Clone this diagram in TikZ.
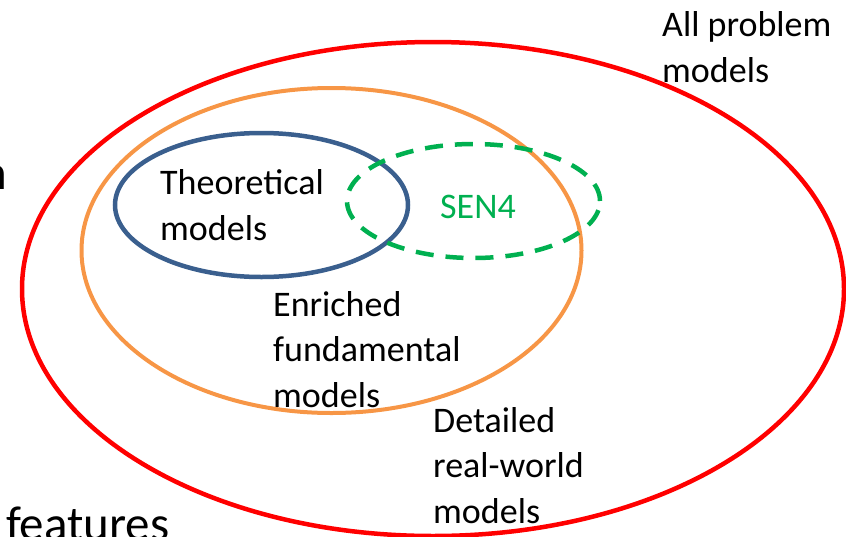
\documentclass[tikz,border=0pt]{standalone}
\usepackage{fontspec}
\setmainfont{Carlito}
\usetikzlibrary{shapes.geometric,positioning}
\definecolor{setred}{HTML}{FF0000}
\definecolor{setorange}{HTML}{F79646}
\definecolor{setblue}{HTML}{3A5F8E}
\definecolor{setgreen}{HTML}{00B050}
\tikzset{
  % mängder
  setring/.style={ellipse,inner sep=0pt,line width=4.5pt},
  allset/.style={setring,draw=setred},
  richset/.style={setring,draw=setorange,line width=4pt},
  theoset/.style={setring,draw=setblue},
  senset/.style={setring,draw=setgreen,dash pattern=on 18pt off 12pt},
  % texter (base = sista radens baslinje)
  lbl/.style={anchor=base west,align=left,inner sep=0pt,
              font=\fontsize{36}{45.5}\selectfont},
  cutlbl/.style={inner sep=0pt,font=\fontsize{49}{58}\selectfont},
}
\begin{document}
\begin{tikzpicture}[x=1pt,y=-1pt]
  \useasboundingbox (0,0) rectangle (846,536);
  \clip (0,0) rectangle (846,536);
  \node[allset,minimum width=822pt,minimum height=494pt] (all) at (433,289) {};
  \node[richset,minimum width=500pt,minimum height=325pt] (rich) at (331.5,250.5) {};
  \node[theoset,minimum width=293pt,minimum height=144pt] (theo) at (261.5,205) {};
  \node[senset,minimum width=253pt,minimum height=114pt] (sen) at (473.5,201) {};
  \node[lbl] (theotxt) at (160,240) {Theoretical\\models};
  \node[lbl,text=setgreen] (sentxt) at (440,218) {SEN4};
  \node[lbl] (richtxt) at (273,407) {Enriched\\fundamental\\models};
  \node[lbl] (realtxt) at (433,523) {Detailed\\real-world\\models};
  \node[lbl] (alltxt) at (662,82) {All problem\\models};
  \node[cutlbl,anchor=base east] (cutn) at (7.5,189) {n};
  \node[cutlbl,anchor=base west] (cutfeat) at (6,540) {features};
\end{tikzpicture}
\end{document}
